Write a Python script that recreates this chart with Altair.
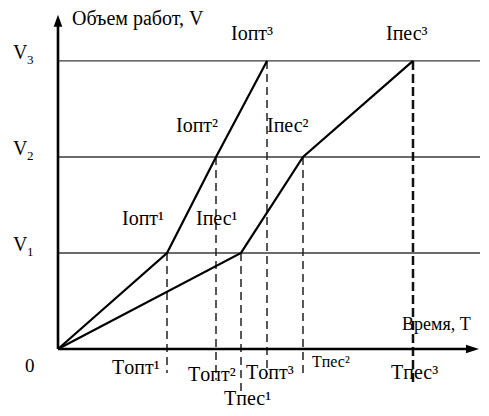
import altair as alt
import pandas as pd

# ---- data ----
volume_levels = [1, 2, 3]
volume_subs = ["1", "2", "3"]

path_volumes = [0, 1, 2, 3]
opt_times = [0, 10.9, 15.8, 20.9]
pes_times = [0, 18.3, 24.5, 35.5]

drop_times = [10.9, 15.8, 20.9, 18.3, 24.5, 35.5]
drop_tops = [1, 2, 3, 1, 2, 3]
drop_bottoms = [-0.25, -0.32, -0.27, -0.48, -0.25, -0.375]
drop_heavy = [False, False, False, False, False, True]

point_labels = ["Iопт¹", "Iопт²", "Iопт³", "Iпес¹", "Iпес²", "Iпес³"]
point_label_t = [6.4, 11.8, 17.3, 13.8, 20.9, 32.8]
point_label_v = [1.29, 2.26, 3.22, 1.29, 2.26, 3.22]

time_labels = ["Tопт¹", "Tопт²", "Tопт³", "Tпес¹", "Tпес²", "Tпес³"]
time_label_t = [5.4, 13.0, 18.8, 16.6, 25.4, 33.3]
time_label_v = [-0.26, -0.33, -0.31, -0.58, -0.19, -0.31]
time_label_size = [20, 20, 20, 20, 16, 20]

axis_titles = ["Объем работ, V", "Время, T", "0"]
axis_title_t = [1.4, 34.4, -3.3]
axis_title_v = [3.375, 0.198, -0.24]
axis_title_size = [20, 18, 19]

x_max = 42.2
y_max = 3.53
axis_top = 3.48
axis_right = 42.1

FONT = "Liberation Serif"

xs = alt.Scale(domain=[0, x_max], nice=False, zero=False)
ys = alt.Scale(domain=[0, y_max], nice=False, zero=False)

def X(f):
    return alt.X(f, type="quantitative", scale=xs, axis=None)

def Y(f):
    return alt.Y(f, type="quantitative", scale=ys, axis=None)

# ---- tables ----
paths = pd.DataFrame(
    {"t": opt_times + pes_times,
     "v": path_volumes + path_volumes,
     "s": ["opt"] * len(opt_times) + ["pes"] * len(pes_times),
     "o": list(range(len(opt_times))) + list(range(len(pes_times)))}
)
levels = pd.DataFrame({"v": volume_levels, "t0": 0.0, "t1": x_max, "sub": volume_subs, "name": "V"})
drops = pd.DataFrame({"t": drop_times, "top": drop_tops, "bot": drop_bottoms, "heavy": drop_heavy})
plabels = pd.DataFrame({"text": point_labels, "t": point_label_t, "v": point_label_v})
tlabels = pd.DataFrame({"text": time_labels, "t": time_label_t, "v": time_label_v, "size": time_label_size})
atitles = pd.DataFrame({"text": axis_titles, "t": axis_title_t, "v": axis_title_v, "size": axis_title_size})
axes = pd.DataFrame({"t": [0.0, 0.0], "v": [0.0, 0.0], "t2": [0.0, axis_right - 1.0], "v2": [axis_top - 0.08, 0.0]})
yarrow = pd.DataFrame({"t": [0.0], "v": [axis_top]})
xarrow = pd.DataFrame({"t": [axis_right], "v": [0.0]})

# ---- layers ----
grid = alt.Chart(levels).mark_rule(color="#3a3a3a", strokeWidth=1.4).encode(
    x=X("t0"), x2="t1", y=Y("v"))

dash_light = alt.Chart(drops[~drops["heavy"]]).mark_rule(
    color="#222222", strokeWidth=1.5, strokeDash=[8, 5]).encode(
    x=X("t"), y=Y("top"), y2="bot")
dash_heavy = alt.Chart(drops[drops["heavy"]]).mark_rule(
    color="#111111", strokeWidth=2.5, strokeDash=[9, 4]).encode(
    x=X("t"), y=Y("top"), y2="bot")

lines = alt.Chart(paths).mark_line(color="black", strokeWidth=2.2).encode(
    x=X("t"), y=Y("v"), detail="s:N", order="o:Q")

axis_lines = alt.Chart(axes).mark_rule(color="black", strokeWidth=2.6).encode(
    x=X("t"), y=Y("v"), x2="t2", y2="v2")

arrow_up = alt.Chart(yarrow).mark_point(
    shape="M0,0L0.36,1L-0.36,1Z", size=576, filled=True, color="black", opacity=1, strokeWidth=0
).encode(x=X("t"), y=Y("v"))
arrow_right = alt.Chart(xarrow).mark_point(
    shape="M0,0L-1,-0.33L-1,0.33Z", size=676, filled=True, color="black", opacity=1, strokeWidth=0
).encode(x=X("t"), y=Y("v"))

v_main = alt.Chart(levels).mark_text(
    font=FONT, fontSize=20, align="left", baseline="alphabetic", dx=-45, dy=-2, color="black"
).encode(x=X("t0"), y=Y("v"), text="name:N")
v_sub = alt.Chart(levels).mark_text(
    font=FONT, fontSize=13, align="left", baseline="alphabetic", dx=-31, dy=3, color="black"
).encode(x=X("t0"), y=Y("v"), text="sub:N")

p_text = alt.Chart(plabels).mark_text(
    font=FONT, fontSize=20, align="left", baseline="alphabetic", color="black"
).encode(x=X("t"), y=Y("v"), text="text:N")

t_text = alt.Chart(tlabels).mark_text(
    font=FONT, align="left", baseline="alphabetic", color="black"
).encode(x=X("t"), y=Y("v"), text="text:N", size=alt.Size("size:Q", scale=None))

a_text = alt.Chart(atitles).mark_text(
    font=FONT, align="left", baseline="alphabetic", color="black"
).encode(x=X("t"), y=Y("v"), text="text:N", size=alt.Size("size:Q", scale=None))

chart = alt.layer(
    grid, dash_light, dash_heavy, lines, axis_lines, arrow_up, arrow_right,
    v_main, v_sub, p_text, t_text, a_text
).properties(
    width=422, height=339,
    padding={"left": 50, "top": 2, "right": 1, "bottom": 59},
    autosize=alt.AutoSizeParams(type="none"),
    background="white",
).configure_view(stroke=None)

chart.save("out.html", embed_options={"renderer": "svg", "actions": False})
